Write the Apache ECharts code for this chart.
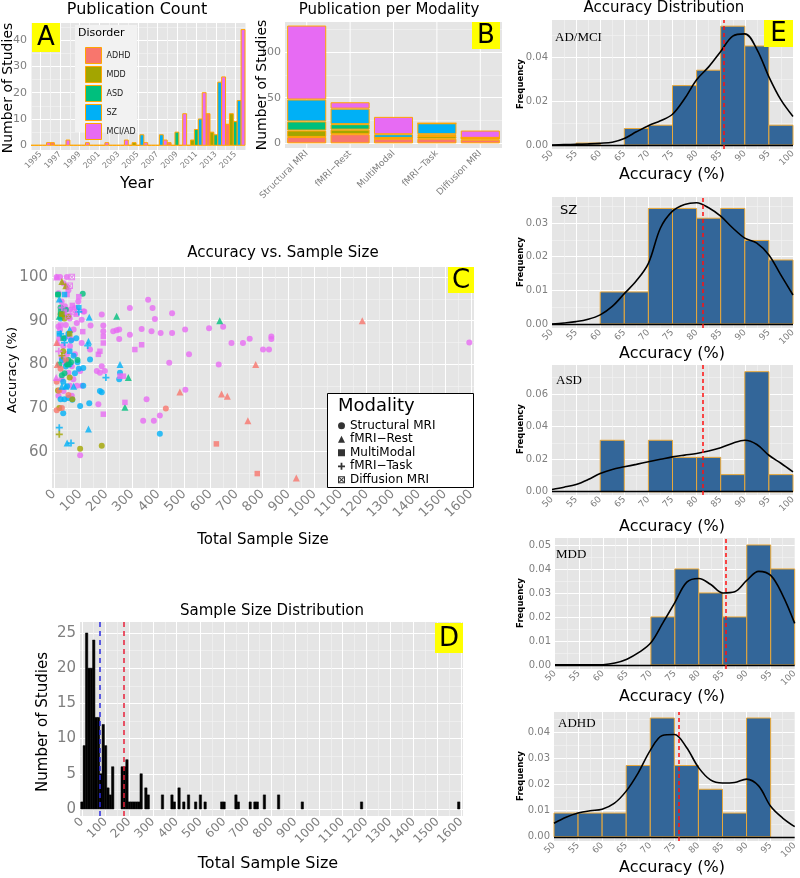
<!DOCTYPE html>
<html><head><meta charset="utf-8">
<script src="https://cdn.jsdelivr.net/npm/echarts@6/dist/echarts.min.js"></script>
<style>html,body{margin:0;padding:0;background:#fff}#c{width:800px;height:878px}</style>
</head><body><div id="c"></div>
<script>
// ================= DATA =================
const disorders = ['ADHD','MDD','ASD','SZ','MCI/AD'];
const disorderColors = ['#F8766D','#A3A500','#00BF7D','#00B0F6','#E76BF3'];

// Panel A: publications per 2-year bin (bin centre years)
const pubYears = [1995,1997,1999,2001,2003,2005,2007,2009,2011,2013,2015];
const pubADHD = [0,1,0,0,0,0,0,1,0,12,8];
const pubMDD  = [0,0,0,0,0,1,0,0,2,5,12];
const pubASD  = [0,0,0,0,0,0,0,5,6,4,9];
const pubSZ   = [0,0,0,0,0,4,4,0,10,24,17];
const pubMCI  = [1,2,1,1,2,1,2,12,20,26,44];

// Panel B: publications per modality (stacked by disorder)
const modalities = ['Structural MRI','fMRI\u2212Rest','MultiModal','fMRI\u2212Task','Diffusion MRI'];
const modADHD = [7,10,5,5,4];
const modMDD  = [7,5,1,3,2];
const modASD  = [10,6,0,2,0];
const modSZ   = [24,17,4,12,0];
const modMCI  = [81,7,19,0,8];

// Panel C: [total sample size, accuracy %, disorder index] per modality
const ptsStructural = [
 [10,100,4],[23,100,4],[49,100,4],[36,98.6,4],[49,97.8,4],[55,97,4],[17,96.3,4],[29,94.4,4],[42,93.3,4],[61,92.5,4],
 [80,92.9,4],[93,94.4,4],[112,92.1,4],[106,90.2,4],[87,89.5,4],[17,88.7,4],[23,88,4],[55,86.4,4],[68,85.7,4],[36,84.2,4],
 [61,84.2,4],[106,84.9,4],[49,82.3,4],[80,82.3,4],[29,81.5,4],[42,80.4,4],[68,79.6,4],[100,78.5,4],[55,78.1,4],[74,76.6,4],
 [29,76.6,4],[61,75.1,4],[87,75.1,4],[106,75.1,4],[36,73.9,4],[17,72.8,4],[68,72.8,4],[100,59.2,4],[30,91,4],[45,89,4],
 [20,86,4],[60,90.5,4],[75,88,4],[116,92.1,4],[140,88.9,4],[138,83.4,4],[183,91.4,4],[189,88.9,4],[189,87.6,4],[183,79.6,4],
 [195,78.5,4],[176,78.1,4],[164,78.5,4],[170,70.9,4],[227,87.6,4],[240,87.8,4],[250,88,4],[250,85.8,4],[291,92.9,4],[291,86.8,4],
 [336,88.1,4],[361,94.8,4],[378,92.9,4],[387,90.4,4],[374,87.6,4],[355,72.0,4],[342,67.1,4],[383,67.1,4],[406,68.3,4],[409,87.2,4],
 [442,80.4,4],[453,91.7,4],[453,87.2,4],[503,88,4],[504,74.2,4],[518,82.3,4],[595,88.3,4],[632,80,4],[649,88.6,4],[681,84.9,4],
 [725,84.9,4],[751,85.9,4],[802,83.4,4],[825,83.4,4],[834,86.4,4],[834,85.8,4],[1594,85,4],
 [25,90.5,3],[40,86,3],[55,87,3],[65,85.5,3],[30,81,3],[45,79.5,3],[60,80,3],[75,82,3],[90,80.5,3],[35,76,3],
 [50,75,3],[80,78,3],[25,72,3],[40,72,3],[55,72.3,3],[70,71.9,3],[35,68.8,3],[95,79,3],[85,86,3],[100,70.5,3],
 [112,79.2,3],[112,75.1,3],[135,71.1,3],[138,81.1,3],[176,73.9,3],[183,73.6,3],[250,76.6,3],[253,78.1,3],[406,64.1,3],
 [15,96,2],[25,93,2],[35,91.5,2],[20,80,2],[40,78,2],[55,81,2],[30,77.5,2],[50,80,2],[90,81,2],[65,80.5,2],[110,96.2,2],[45,92.5,2],
 [25,91.5,1],[40,90.5,1],[55,91,1],[15,74,1],[20,70,1],[70,72,1],[100,60.7,1],[183,61.4,1],[35,83,1],[60,77,1],
 [10,76,0],[25,79,0],[20,74,0],[45,81,0],[30,70,0],[55,73,0],[10,69.5,0],[429,69.9,0]
];
const ptsRest = [
 [10,100,4],[15,85,4],[8,77,4],[30,99,1],[45,98,1],[20,95,3],[30,75,3],[45,75,3],[75,75,3],[135,90.8,3],
 [132,85.3,3],[132,65.2,3],[50,62,3],[60,88,3],[253,80,3],[240,91,2],[285,77,2],[272,70.2,2],[636,90,2],[20,91,2],
 [10,85,0],[12,80,0],[774,80,0],[744,67.1,0],[643,73.2,0],[665,72.7,0],[483,73.7,0],[1183,90,0],[930,54,0]
];
const ptsMulti = [
 [50,96,4],[70,93.5,4],[85,91.5,4],[95,95.5,4],[25,89,4],[110,87.5,4],[40,92,4],[189,86.4,4],[189,84.9,4],[176,83,4],
 [170,82.3,4],[253,77.3,4],[266,77.3,4],[272,71.3,4],[310,83.4,4],[336,84.5,4],[189,68.6,4],[40,96,3],[20,87,3],[60,83,3],
 [95,93,3],[15,96,2],[25,92,2],[35,86,2],[55,80,2],[30,91.5,1],[60,87,1],[623,61.8,0],[780,55,0]
];
const ptsTask = [
 [18,83,4],[30,93,4],[20,65.5,3],[95,92,3],[65,62,3],[129,84.3,3],[199,77,3],[25,87,3],[40,85,3],[20,64,1],[30,82,1]
];
const ptsDiffusion = [[68,100,4],[60,98,4],[75,92,4],[55,91,4]];

// Panel D: sample size histogram (bin centres, width 10) and reference lines
const sizeBinCentres = [0,10,20,30,40,50,60,70,80,90,100,110,120,130,170,180,190,200,210,220,230,240,250,270,280,340,380,390,410,430,450,480,500,520,590,600,650,660,710,730,740,770,830,930,1180,1590];
const sizeBinCounts  = [1,9,25,20,20,24,13,13,5,12,9,3,2,6,6,6,7,1,1,1,1,1,5,3,2,2,2,1,3,1,2,1,2,1,1,1,2,1,1,1,1,2,2,1,1,1];
const sizeMedian = 76, sizeMean = 177;

// Panel E: accuracy histograms (bin starts, width 5), densities, means
const accBinStarts = [50,55,60,65,70,75,80,85,90,95];
const histAD   = [0,0.0009,0,0.0075,0.009,0.027,0.034,0.054,0.045,0.009];
const histSZ   = [0,0,0.0095,0.0095,0.0343,0.0343,0.0314,0.0343,0.0248,0.019];
const histASD  = [0,0,0.0316,0,0.0316,0.0211,0.0211,0.0105,0.0737,0.0105];
const histMDD  = [0,0,0,0,0.02,0.04,0.03,0.02,0.05,0.04];
const histADHD = [0.0091,0.0091,0.0091,0.0273,0.0455,0.0273,0.0182,0.0091,0.0455,0];

const densX = [50,52.5,55,57.5,60,62.5,65,67.5,70,72.5,75,77.5,80,82.5,85,87.5,90,92.5,95,97.5,100];
const densAD   = [0,0.0002,0.0003,0.0005,0.0008,0.0013,0.003,0.006,0.0088,0.011,0.014,0.021,0.0297,0.0355,0.0425,0.0495,0.0505,0.0435,0.031,0.0205,0.013];
const densSZ   = [0,0.0003,0.0007,0.0014,0.0027,0.0052,0.009,0.0128,0.018,0.0285,0.0335,0.0355,0.036,0.0345,0.032,0.0285,0.0255,0.024,0.0205,0.0145,0.0086];
const densASD  = [0.0014,0.0028,0.0045,0.0075,0.0112,0.0137,0.0153,0.0168,0.0184,0.0199,0.0214,0.0225,0.0235,0.025,0.027,0.0298,0.0316,0.029,0.0224,0.0175,0.0122];
const densMDD  = [0,0,0,0,0.0001,0.0008,0.0024,0.0052,0.0092,0.0175,0.026,0.0345,0.036,0.0335,0.030,0.0305,0.0352,0.039,0.0373,0.029,0.0173];
const densADHD = [0.0052,0.0075,0.0091,0.0100,0.0106,0.0128,0.0175,0.0245,0.0331,0.0388,0.0392,0.0343,0.0266,0.0218,0.0206,0.0208,0.0221,0.0195,0.0117,0.0072,0.0039];
const accMeans = {AD:85.6, SZ:81.3, ASD:81.3, MDD:85.6, ADHD:76};

const yearRange = [1994, 2016];

// ================= CHART =================
const FONT = 'DejaVu Sans';
const GREY = '#7F7F7F', BG = '#E5E5E5', MINOR = '#F2F2F2', OUTLINE = '#FFA500';
const chart = echarts.init(document.getElementById('c'), null, {renderer:'canvas'});

const gridsPos = [
  {left:31, top:23, width:214, height:127},   // A
  {left:285, top:22, width:217, height:126},  // B
  {left:52, top:267, width:422, height:221},  // C
  {left:80, top:622, width:383, height:194},  // D
  {left:552, top:20, width:241, height:129},  // E1
  {left:552, top:197, width:241, height:131}, // E2
  {left:552, top:365, width:241, height:130}, // E3
  {left:555, top:538, width:241, height:131}, // E4
  {left:554, top:712, width:242, height:129}  // E5
];
const grid = gridsPos.map(g => Object.assign({show:true, backgroundColor:BG, borderWidth:0, containLabel:false}, g));

function vAxis(gi, min, max, step, fs, extra) {
  const ax = {
    type:'value', gridIndex:gi, min:min, max:max, minInterval:step, maxInterval:step,
    axisLine:{show:false}, axisTick:{show:false},
    splitLine:{show:true, showMinLine:false, showMaxLine:false, lineStyle:{color:'#FFFFFF', width:1}},
    minorTick:{show:false, splitNumber:2},
    minorSplitLine:{show:true, lineStyle:{color:MINOR, width:0.7}},
    axisLabel:{color:GREY, fontSize:fs, fontFamily:FONT, margin:4, showMinLabel:false, showMaxLabel:false,
               hideOverlap:false, formatter: v => String(v)}
  };
  if (extra) {
    for (const k in extra) {
      if (typeof extra[k] === 'object' && !Array.isArray(extra[k]) && ax[k]) Object.assign(ax[k], extra[k]);
      else ax[k] = extra[k];
    }
  }
  return ax;
}

const xAxis = [
  {type:'value', gridIndex:0, min:yearRange[0], max:yearRange[1], interval:1,
   axisLine:{show:false}, axisTick:{show:false},
   splitLine:{show:true, lineStyle:{color:[MINOR,'#FFFFFF'], width:1}},
   axisLabel:{color:GREY, fontSize:8, fontFamily:FONT, rotate:45, margin:3,
     formatter: v => (Math.round(v) % 2 === 1 ? String(Math.round(v)) : '')}},
  {type:'category', gridIndex:1, data:modalities, boundaryGap:true,
   axisLine:{show:false}, axisTick:{show:false}, splitLine:{show:false},
   axisLabel:{color:GREY, fontSize:9, fontFamily:FONT, rotate:45, margin:4, interval:0}},
  vAxis(2, -8, 1612, 100, 13, {axisLabel:{rotate:45, margin:4}}),
  vAxis(3, -8, 1608, 100, 12, {axisLabel:{rotate:45, margin:4}}),
];
for (let i = 0; i < 5; i++) {
  xAxis.push(vAxis(4+i, 50, 100, 5, 9, {axisLabel:{rotate:45, margin:3, showMinLabel:true, showMaxLabel:true}}));
}
const fmt2 = v => v.toFixed(2);
const yAxis = [
  vAxis(0, -1.79, 46.5, 10, 11),
  vAxis(1, -5.1, 132.9, 50, 11),
  vAxis(2, 51.7, 102.3, 10, 15),
  vAxis(3, -1.0, 26.56, 5, 15),
  vAxis(4, -0.0018, 0.0568, 0.02, 10, {axisLabel:{formatter:fmt2}}),
  vAxis(5, -0.0012, 0.0377, 0.01, 10, {axisLabel:{formatter:fmt2}}),
  vAxis(6, -0.002, 0.0778, 0.02, 10, {axisLabel:{formatter:fmt2}}),
  vAxis(7, -0.0017, 0.0529, 0.01, 10, {axisLabel:{formatter:fmt2}}),
  vAxis(8, -0.0016, 0.0478, 0.01, 10, {axisLabel:{formatter:fmt2}})
];

const series = [];
// ---- A: dodged histogram bars (bin width 2 years, 5 slots)
const pubSeries = [pubADHD, pubMDD, pubASD, pubSZ, pubMCI];
pubSeries.forEach((vals, slot) => {
  const col = disorderColors[slot];
  series.push({
    type:'custom', name:disorders[slot], xAxisIndex:0, yAxisIndex:0, z:2,
    itemStyle:{color:col, borderColor:OUTLINE, borderWidth:1},
    data: pubYears.map((y, i) => [y, vals[i]]),
    renderItem: (params, api) => {
      const c = api.value(0), v = api.value(1);
      const p0 = api.coord([c - 1 + slot*0.4, v]);
      const p1 = api.coord([c - 1 + (slot+1)*0.4, 0]);
      return {type:'rect', shape:{x:p0[0], y:p0[1], width:p1[0]-p0[0], height:p1[1]-p0[1]},
              style:{fill:col, stroke:OUTLINE, lineWidth:1}};
    }
  });
});

// ---- B: vertical gridlines at category centres + stacked bars
series.push({
  type:'custom', xAxisIndex:1, yAxisIndex:1, z:1, silent:true,
  data: modalities.map((m, i) => [i, 0]),
  renderItem: (params, api) => {
    const p = api.coord([api.value(0), 0]);
    const cs = params.coordSys;
    return {type:'line', shape:{x1:p[0], y1:cs.y, x2:p[0], y2:cs.y+cs.height}, style:{stroke:'#FFFFFF', lineWidth:1}};
  }
});
const modSeries = [modADHD, modMDD, modASD, modSZ, modMCI];
modSeries.forEach((vals, k) => {
  series.push({
    type:'bar', name:disorders[k], xAxisIndex:1, yAxisIndex:1, stack:'mod', z:2,
    barCategoryGap:'10%',
    itemStyle:{color:disorderColors[k], borderColor:OUTLINE, borderWidth:1},
    data: vals
  });
});

// ---- C: scatter per modality
const plusPath = 'path://M3,0h2v3h3v2h-3v3h-2v-3h-3v-2h3z';
const sqxPath = 'path://M0,0L10,0L10,10L0,10Z M1.5,1.5L1.5,8.5L8.5,8.5L8.5,1.5Z M1.5,2.5L2.5,1.5L8.5,7.5L7.5,8.5Z M7.5,1.5L8.5,2.5L2.5,8.5L1.5,7.5Z';
const modalSets = [
  {name:modalities[0], pts:ptsStructural, symbol:'circle', size:6},
  {name:modalities[1], pts:ptsRest, symbol:'triangle', size:7},
  {name:modalities[2], pts:ptsMulti, symbol:'rect', size:5.5},
  {name:modalities[3], pts:ptsTask, symbol:plusPath, size:7},
  {name:modalities[4], pts:ptsDiffusion, symbol:sqxPath, size:6.5}
];
modalSets.forEach(ms => {
  series.push({
    type:'scatter', name:ms.name, xAxisIndex:2, yAxisIndex:2, z:3,
    symbol:ms.symbol, symbolSize:ms.size,
    itemStyle:{color:'#000'},
    data: ms.pts.map(p => ({value:[p[0], p[1]], itemStyle:{color:disorderColors[p[2]], opacity:0.8}}))
  });
});

// ---- D: histogram of sample sizes
series.push({
  type:'custom', xAxisIndex:3, yAxisIndex:3, z:2,
  data: sizeBinCentres.map((c, i) => [c, sizeBinCounts[i]]),
  renderItem: (params, api) => {
    const c = api.value(0), v = api.value(1);
    const p0 = api.coord([c-5, v]), p1 = api.coord([c+5, 0]);
    return {type:'rect', shape:{x:p0[0], y:p0[1], width:p1[0]-p0[0], height:p1[1]-p0[1]}, style:{fill:'#000', stroke:'#000', lineWidth:0.5}};
  },
  markLine:{silent:true, symbol:['none','none'], label:{show:false}, animation:false, z:5,
    data:[{xAxis:sizeMedian, lineStyle:{color:'#2A2AE0', type:[5,4], width:1.5, opacity:1}},
          {xAxis:sizeMean, lineStyle:{color:'#E8203A', type:[5,4], width:1.5, opacity:1}}]}
});

// ---- E: accuracy histograms with density
const ePanels = [
  {hist:histAD, dens:densAD, mean:accMeans.AD},
  {hist:histSZ, dens:densSZ, mean:accMeans.SZ},
  {hist:histASD, dens:densASD, mean:accMeans.ASD},
  {hist:histMDD, dens:densMDD, mean:accMeans.MDD},
  {hist:histADHD, dens:densADHD, mean:accMeans.ADHD}
];
ePanels.forEach((ep, k) => {
  const ai = 4 + k;
  series.push({
    type:'custom', xAxisIndex:ai, yAxisIndex:ai, z:2,
    data: accBinStarts.map((s, i) => [s, ep.hist[i]]),
    renderItem: (params, api) => {
      const s = api.value(0), v = api.value(1);
      if (!(v > 0)) return null;
      const p0 = api.coord([s, v]), p1 = api.coord([s+5, 0]);
      return {type:'rect', shape:{x:p0[0], y:p0[1], width:p1[0]-p0[0], height:p1[1]-p0[1]},
              style:{fill:'#336699', stroke:'#E9A83A', lineWidth:1}};
    },
    markLine:{silent:true, symbol:['none','none'], label:{show:false}, animation:false,
      lineStyle:{color:'#000', type:'solid', width:1.3, opacity:1},
      data:[{yAxis:0}]}
  });
  series.push({
    type:'line', xAxisIndex:ai, yAxisIndex:ai, z:4, showSymbol:false, smooth:0.35,
    lineStyle:{color:'#000', width:1.6}, silent:true,
    data: densX.map((x, i) => [x, ep.dens[i]]),
    markLine:{silent:true, symbol:['none','none'], label:{show:false}, animation:false,
      lineStyle:{color:'#FF1010', type:[4,3], width:1.5, opacity:1},
      data:[{xAxis:ep.mean}]}
  });
});

// ---- Graphic texts & decorations
function txt(text, x, y, size, opts) {
  return Object.assign({type:'text', x:x, y:y, z:50,
    style:Object.assign({text:text, font:(opts && opts.font) || (size + 'px ' + FONT), fill:'#000',
      align:'center', verticalAlign:'middle'}, (opts && opts.style) || {})}, (opts && opts.el) || {});
}
function vtxt(text, x, y, size, font) {
  return {type:'text', x:x, y:y, rotation:Math.PI/2, z:50,
    style:{text:text, font: font || (size + 'px ' + FONT), fill:'#000', align:'center', verticalAlign:'middle'}};
}
function tag(letter, x, y, w, h) {
  return [{type:'rect', shape:{x:x, y:y, width:w, height:h}, style:{fill:'#FFFF00'}, z:40},
          txt(letter, x + w/2, y + h/2 + 1, 26, {style:{}})];
}
const graphic = [
  txt('Publication Count', 137, 10, 16),
  txt('Publication per Modality', 389, 10, 15),
  txt('Accuracy vs. Sample Size', 283, 253, 15),
  txt('Sample Size Distribution', 272, 611, 15),
  txt('Accuracy Distribution', 664, 8, 15),
  vtxt('Number of Studies', 8, 88, 14),
  txt('Year', 137, 184, 16),
  vtxt('Number of Studies', 262, 85, 14),
  vtxt('Accuracy (%)', 13, 370, 13),
  txt('Total Sample Size', 263, 540, 15),
  vtxt('Number of Studies', 43, 722, 15),
  txt('Total Sample Size', 268, 864, 16),
  {type:'rect', shape:{x:75, y:25, width:62, height:107}, style:{fill:'#F2F2F2'}, z:5},
  txt('Disorder', 78, 33, 11, {style:{align:'left'}}),
  {type:'rect', shape:{x:327.5, y:393.5, width:146, height:94}, style:{fill:'#FFFFFF', stroke:'#000', lineWidth:1}, z:5},
  txt('Modality', 338, 406, 18, {style:{align:'left'}}),
  txt('AD/MCI', 555, 38, 13, {font:'13px "Liberation Serif"', style:{align:'left'}}),
  txt('SZ', 560, 211, 13, {style:{align:'left'}}),
  txt('ASD', 556, 381, 13, {font:'13px "Liberation Serif"', style:{align:'left'}}),
  txt('MDD', 556, 555, 13, {font:'13px "Liberation Serif"', style:{align:'left'}}),
  txt('ADHD', 558, 724, 13, {font:'13px "Liberation Serif"', style:{align:'left'}})
];
const eCenters = [84, 262, 429, 603, 776];
const eTitleY = [175, 354, 527, 697, 868];
eCenters.forEach(cy => graphic.push(vtxt('Frequency', 521, cy, 9, 'bold 8.5px ' + FONT)));
eTitleY.forEach(ty => graphic.push(txt('Accuracy (%)', 672, ty, 16)));
graphic.push(...tag('A', 32, 23, 28, 29));
graphic.push(...tag('B', 472, 22, 28, 27));
graphic.push(...tag('C', 448, 267, 26, 26));
graphic.push(...tag('D', 435, 623, 28, 30));
graphic.push(...tag('E', 764, 20, 29, 27));

const legend = [
  {data: disorders.map((d, i) => ({name:d, icon:'rect', itemStyle:{color:disorderColors[i], borderColor:OUTLINE, borderWidth:1}})),
   orient:'vertical', left:80, top:42, itemWidth:16, itemHeight:16, itemGap:2, selectedMode:false, z:10,
   textStyle:{fontSize:8, color:'#222', fontFamily:FONT}},
  {data: modalities.slice(), orient:'vertical', left:333, top:414, itemWidth:7, itemHeight:7, itemGap:0, selectedMode:false, z:10,
   textStyle:{fontSize:12, color:'#000', fontFamily:FONT, lineHeight:13.5}}
];

chart.setOption({
  animation:false, backgroundColor:'#FFFFFF',
  textStyle:{fontFamily:FONT},
  grid:grid, xAxis:xAxis, yAxis:yAxis, series:series, legend:legend, graphic:graphic
});
</script>
</body></html>
